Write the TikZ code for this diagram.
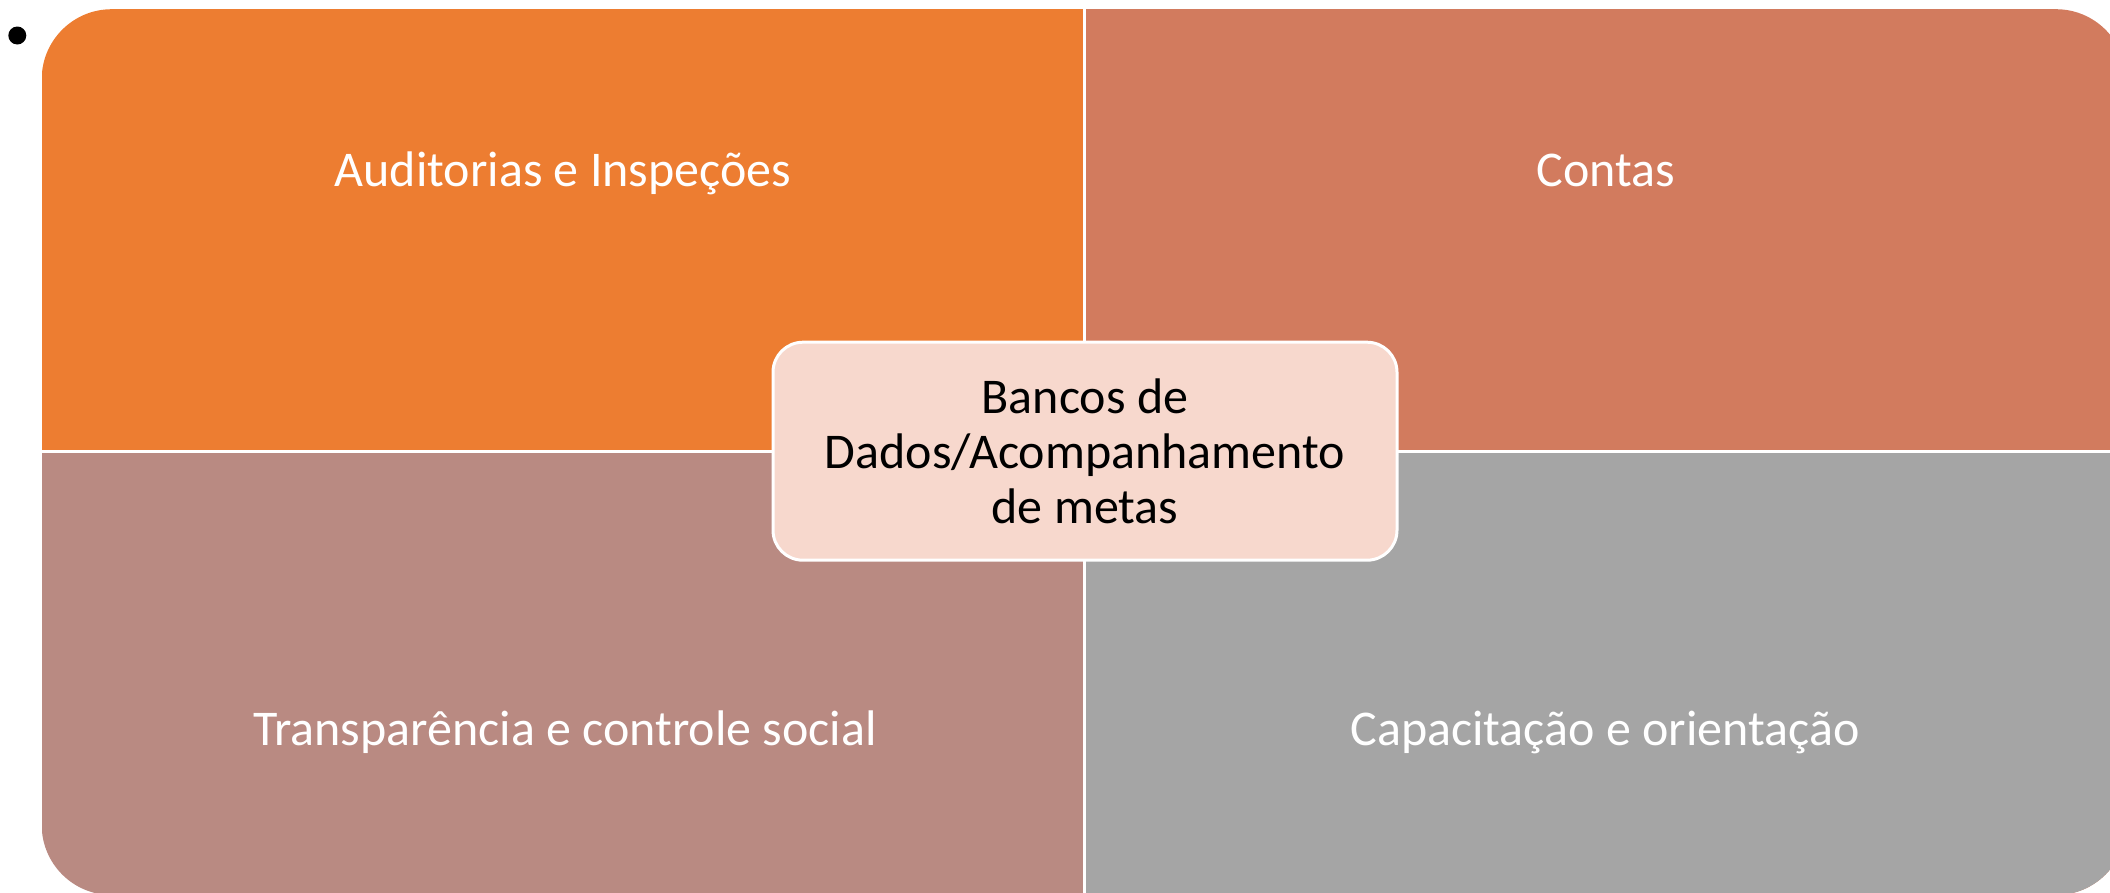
\documentclass[tikz,border=0pt]{standalone}
\usepackage{fontspec}
\setmainfont{Carlito}
\definecolor{qorange}{HTML}{ED7D31}
\definecolor{qsalmon}{HTML}{D27B5E}
\definecolor{qrose}{HTML}{B98A82}
\definecolor{qgray}{HTML}{A5A5A5}
\definecolor{boxfill}{HTML}{F7D8CD}
\tikzset{
  qtext/.style={text=white, anchor=base, inner sep=0pt, font=\fontsize{50}{55}\selectfont},
  centerbox/.style={draw=white, line width=3pt, fill=boxfill, rounded corners=30pt,
    minimum width=624pt, minimum height=218pt, align=center, text=black,
    font=\fontsize{50}{55}\selectfont, inner sep=0pt},
  divider/.style={white, line width=2.5pt}
}
\begin{document}
\begin{tikzpicture}[x=1pt,y=-1pt]
\useasboundingbox (0,0) rectangle (2110,892);
% outer rounded shape split into quadrants
\coordinate (tl) at (41.7,9.2);
\coordinate (br) at (2126,895);
\coordinate (mid) at (1084.7,451.7);
\begin{scope}
  \clip[rounded corners=70pt] (tl) rectangle (br);
  \fill[qorange] (tl) rectangle (mid);
  \fill[qsalmon] (mid |- tl) rectangle (br -| br |- mid);
  \fill[qrose] (tl |- mid) rectangle (mid |- br);
  \fill[qgray] (mid) rectangle (br);
\end{scope}
\draw[divider] (mid |- tl) -- (mid |- br);
\draw[divider] (tl |- mid) -- (br |- mid);
% bullet
\node[circle, fill=black, inner sep=0pt, minimum size=18pt] (bullet) at (17.3,35.5) {};
% quadrant labels
\node[qtext] (aud) at (563,186.7) {Auditorias e Inspeções};
\node[qtext] (contas) at (1606,186.7) {Contas};
\node[qtext] (transp) at (565,745) {Transparência e controle social};
\node[qtext] (capac) at (1605,745) {Capacitação e orientação};
% center box
\node[centerbox] (banco) at (1085,451.2) {Bancos de\\Dados/Acompanhamento\\de metas};
\end{tikzpicture}
\end{document}
